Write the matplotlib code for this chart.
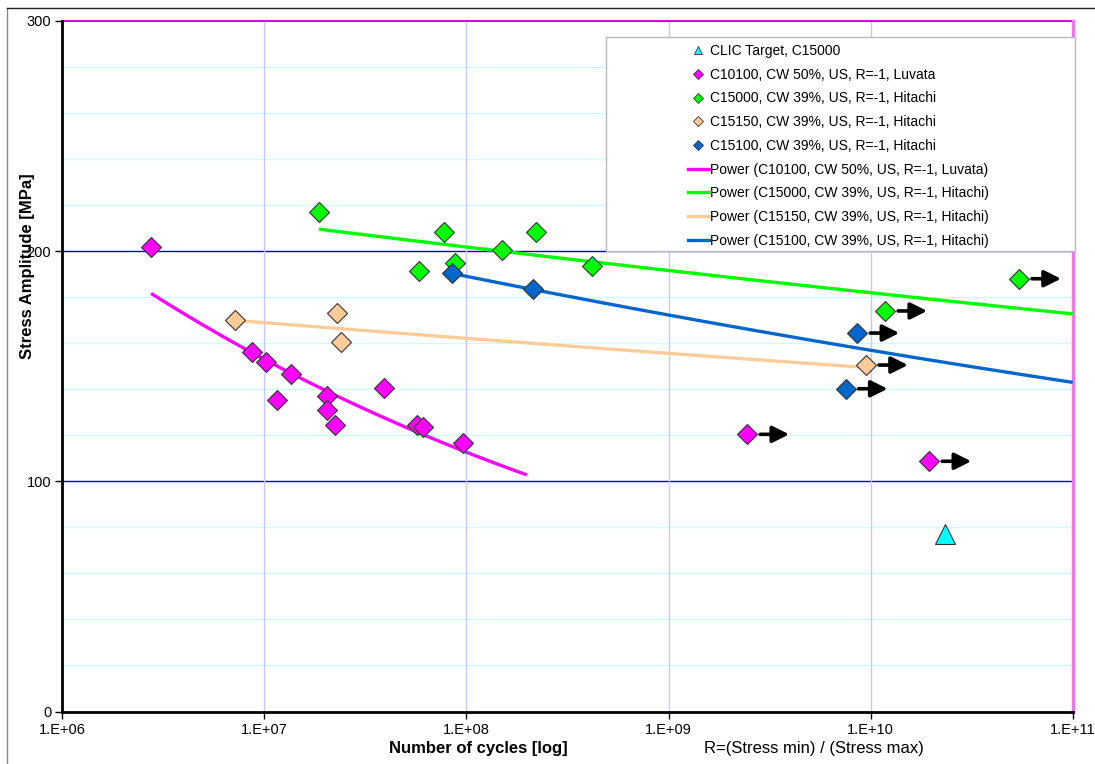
import numpy as np
import matplotlib
matplotlib.use("Agg")
from matplotlib import pyplot as plt
from matplotlib.patches import Rectangle
from matplotlib.lines import Line2D
from matplotlib.transforms import offset_copy

plt.rcParams['font.family'] = ['Liberation Sans', 'DejaVu Sans']

# test points (cycles, stress amplitude MPa)
c10100_n = [2.75e6, 8.65e6, 1.02e7, 1.35e7, 1.16e7, 2.04e7, 2.04e7, 2.24e7,
            3.89e7, 5.67e7, 6.07e7, 9.64e7]
c10100_s = [201.9, 156.3, 151.8, 146.6, 135.2, 137.2, 131.1, 124.5,
            140.4, 124.5, 123.7, 116.8]
c10100_runout_n = [2.45e9, 1.95e10]
c10100_runout_s = [120.4, 108.7]

c15000_n = [1.86e7, 7.77e7, 5.82e7, 8.77e7, 1.50e8, 2.21e8, 4.18e8]
c15000_s = [217.0, 208.2, 191.4, 194.8, 200.5, 208.3, 193.5]
c15000_runout_n = [1.18e10, 5.42e10]
c15000_runout_s = [174.0, 188.0]

c15150_n = [7.18e6, 2.29e7, 2.39e7]
c15150_s = [169.9, 173.0, 160.4]
c15150_runout_n = [9.48e9]
c15150_runout_s = [150.5]

c15100_n = [8.48e7, 2.13e8]
c15100_s = [190.6, 183.5]
c15100_runout_n = [8.59e9, 7.52e9]
c15100_runout_s = [164.4, 140.2]

clic_n = [2.33e10]
clic_s = [77.1]

# power trendlines  s = a * n^b  over [nmin, nmax]
fit_a = [1305.0, 305.3, 225.2, 398.0]
fit_b = [-0.1330, -0.02249, -0.01785, -0.04042]
fit_nmin = [2.75e6, 1.86e7, 7.3e6, 8.5e7]
fit_nmax = [1.99e8, 1e11, 9.19e9, 1e11]

MAG = '#FF00FF'
GRN = '#00FF00'
TAN = '#FFCC99'
BLU = '#0066CC'
CYN = '#00FFFF'

series = [
    ("C10100, CW 50%, US, R=-1, Luvata", MAG, c10100_n, c10100_s, c10100_runout_n, c10100_runout_s),
    ("C15000, CW 39%, US, R=-1, Hitachi", GRN, c15000_n, c15000_s, c15000_runout_n, c15000_runout_s),
    ("C15150, CW 39%, US, R=-1, Hitachi", TAN, c15150_n, c15150_s, c15150_runout_n, c15150_runout_s),
    ("C15100, CW 39%, US, R=-1, Hitachi", BLU, c15100_n, c15100_s, c15100_runout_n, c15100_runout_s),
]

fig = plt.figure(figsize=(10.95, 7.64), dpi=100)
ax = fig.add_axes([62.3 / 1095, 1 - 711.5 / 764, 1010.4 / 1095, 690.6 / 764])

ax.set_xscale('log')
ax.set_xlim(1e6, 1e11)
ax.set_ylim(0, 300)

# grid
for v in range(20, 300, 20):
    if v % 100:
        ax.axhline(v, color='#CCFFFF', lw=1, zorder=0)
ax.axhline(100, color='#0000CC', lw=1, zorder=0)
ax.axhline(200, color='#0000CC', lw=1, zorder=0)
for d in [1e7, 1e8, 1e9, 1e10]:
    ax.axvline(d, color='#C8C8FF', lw=1, zorder=0)
ax.axhline(300, color='#DD00DD', lw=1.5, zorder=1, clip_on=False)
ax.axvline(1e11, color='#EE77EE', lw=2.5, zorder=1, clip_on=False)

# trendlines
for i, (label, col, *_r) in enumerate(series):
    n = np.logspace(np.log10(fit_nmin[i]), np.log10(fit_nmax[i]), 200)
    ax.plot(n, fit_a[i] * n ** fit_b[i], color=col, lw=2.4, zorder=2,
            solid_capstyle='butt')

# markers and runout arrows
for label, col, n, s, rn, rs in series:
    ax.plot(n + rn, s + rs, 'D', ms=10, mfc=col, mec='#333333', mew=0.8,
            ls='none', zorder=4)
    for x, y in zip(rn, rs):
        tail = offset_copy(ax.transData, fig=fig, x=13, y=0, units='dots')
        tip = offset_copy(ax.transData, fig=fig, x=42, y=0, units='dots')
        ax.annotate('', xy=(x, y), xycoords=tip, xytext=(x, y), textcoords=tail,
                    arrowprops=dict(arrowstyle='-|>,head_length=1.0,head_width=0.5',
                                    color='black', lw=2.6, shrinkA=0, shrinkB=0),
                    zorder=5)

ax.plot(clic_n, clic_s, '^', ms=14, mfc=CYN, mec='#333333', mew=0.8,
        ls='none', zorder=4, clip_on=False)

# axes styling
for side in ['top', 'right']:
    ax.spines[side].set_visible(False)
for side in ['left', 'bottom']:
    ax.spines[side].set_linewidth(2)
    ax.spines[side].set_color('black')

ax.set_xticks([1e6, 1e7, 1e8, 1e9, 1e10, 1e11])
ax.set_xticklabels(['1.E+06', '1.E+07', '1.E+08', '1.E+09', '1.E+10', '1.E+11'])
ax.xaxis.set_minor_locator(matplotlib.ticker.NullLocator())
ax.set_yticks([0, 100, 200, 300])
ax.tick_params(axis='both', direction='out', length=5, width=1, labelsize=10.5,
               pad=3, colors='black')

ax.set_ylabel('Stress Amplitude [MPa]', fontsize=12, fontweight='bold')
ax.yaxis.set_label_coords(-0.027, 0.645)
fig.text(478 / 1095, 1 - 749 / 764, 'Number of cycles [log]', ha='center',
         va='center', fontsize=12, fontweight='bold')
fig.text(814 / 1095, 1 - 749 / 764, 'R=(Stress min) / (Stress max)', ha='center',
         va='center', fontsize=12)

# legend
handles = [Line2D([], [], ls='none', marker='^', ms=6, mfc=CYN, mec='#333333', mew=0.6)]
labels = ['CLIC Target, C15000']
for label, col, *_r in series:
    handles.append(Line2D([], [], ls='none', marker='D', ms=5, mfc=col, mec='#333333', mew=0.6))
    labels.append(label)
for label, col, *_r in series:
    handles.append(Line2D([], [], color=col, lw=2.4))
    labels.append('Power (' + label + ')')

box = Rectangle((605.7 / 1095, 1 - 250.7 / 764), (1075 - 605.7) / 1095, (250.7 - 37.3) / 764,
                transform=fig.transFigure, facecolor='white', edgecolor='#BBBBBB',
                lw=1, zorder=6)
fig.patches.append(box)
leg = fig.legend(handles, labels, loc='upper left',
                 bbox_to_anchor=(688 / 1095, 1 - 44 / 764), frameon=False,
                 fontsize=10, handlelength=1.5, handletextpad=0.1,
                 labelspacing=0.70, borderpad=0, borderaxespad=0)
leg.set_zorder(7)

# chart area border
fig.add_artist(Line2D([7 / 1095, 7 / 1095], [0, 1 - 8 / 764], transform=fig.transFigure,
                      color='#888888', lw=1))
fig.add_artist(Line2D([7 / 1095, 1], [1 - 8 / 764, 1 - 8 / 764], transform=fig.transFigure,
                      color='#222222', lw=1))

fig.savefig('out.png', dpi=100)
